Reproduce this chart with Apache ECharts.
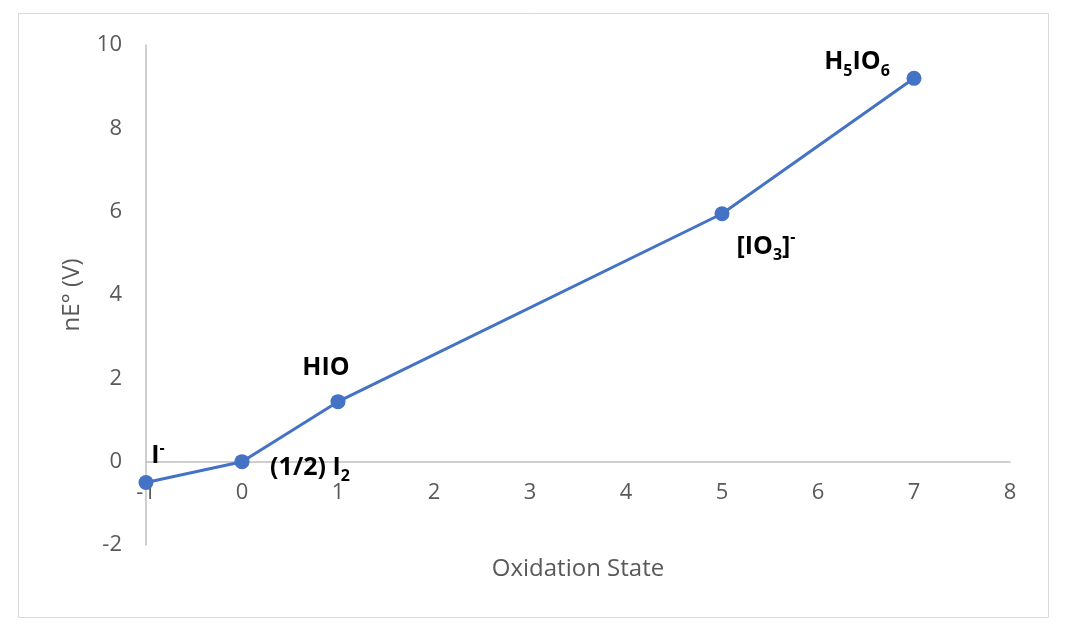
<!DOCTYPE html>
<html>
<head>
<meta charset="utf-8">
<script src="https://cdn.jsdelivr.net/npm/echarts@6/dist/echarts.min.js"></script>
<style>
html,body{margin:0;padding:0;background:#fff;}
#chart{width:1065px;height:635px;}
</style>
</head>
<body>
<div id="chart"></div>
<script>
// Data
const oxidationStates = [-1, 0, 1, 5, 7];
const nEValues = [-0.5, 0, 1.44, 5.95, 9.2];
const speciesLabels = [
  '{b|I}{sup|-}',
  '{b|(1/2) I}{sub|2}',
  '{b|HIO}',
  '{b|[IO}{sub|3}{b|]}{sup|-}',
  '{b|H}{sub|5}{b|IO}{sub|6}'
];
const xTicks = { min: -1, max: 8, interval: 1 };
const yTicks = { min: -2, max: 10, interval: 2 };

// Label placement (presentation only): offset of label centre from the point
const labelOffsets = [
  [12, -27],
  [68, 6],
  [-12, -34],
  [44, 33],
  [-57, -16]
];

const richStyles = {
  b: { fontFamily: 'Open Sans', fontWeight: 'bold', fontSize: 25, color: '#000' },
  sub: { fontFamily: 'Open Sans', fontWeight: 'bold', fontSize: 16, color: '#000', verticalAlign: 'bottom', padding: [18, 0, 0, 0] },
  sup: { fontFamily: 'Open Sans', fontWeight: 'bold', fontSize: 16, color: '#000', verticalAlign: 'top', padding: [0, 0, 14, 0] }
};

const seriesData = oxidationStates.map((x, i) => ({
  value: [x, nEValues[i]],
  label: {
    show: true,
    formatter: speciesLabels[i],
    position: 'inside',
    align: 'center',
    verticalAlign: 'middle',
    offset: labelOffsets[i],
    rich: richStyles
  }
}));

const chart = echarts.init(document.getElementById('chart'), null, { renderer: 'canvas' });
chart.setOption({
  animation: false,
  backgroundColor: '#fff',
  graphic: [{
    type: 'rect',
    shape: { x: 18.5, y: 13.5, width: 1030, height: 604 },
    style: { fill: 'none', stroke: '#d9d9d9', lineWidth: 1 },
    silent: true,
    z: -1
  }],
  grid: { left: 146, right: 55, top: 45, bottom: 90, outerBoundsMode: 'none', containLabel: false },
  xAxis: {
    type: 'value',
    min: xTicks.min, max: xTicks.max, interval: xTicks.interval,
    name: 'Oxidation State',
    nameLocation: 'middle',
    nameGap: 12,
    nameMoveOverlap: false,
    nameTextStyle: { fontFamily: 'Open Sans', fontSize: 24, color: '#595959' },
    axisLine: { show: true, onZero: true, lineStyle: { color: '#bfbfbf', width: 1.5 } },
    axisTick: { show: false },
    splitLine: { show: false },
    axisLabel: { fontFamily: 'Open Sans', fontSize: 22, color: '#595959', margin: -63 }
  },
  yAxis: {
    type: 'value',
    min: yTicks.min, max: yTicks.max, interval: yTicks.interval,
    name: 'nE° (V)',
    nameLocation: 'middle',
    nameGap: 62,
    nameTextStyle: { fontFamily: 'Open Sans', fontSize: 24, color: '#595959' },
    axisLine: { show: true, onZero: false, lineStyle: { color: '#bfbfbf', width: 1.5 } },
    axisTick: { show: false },
    splitLine: { show: false },
    axisLabel: { fontFamily: 'Open Sans', fontSize: 22, color: '#595959', margin: 24 }
  },
  series: [{
    type: 'line',
    data: seriesData,
    symbol: 'circle',
    symbolSize: 15,
    itemStyle: { color: '#4472C4' },
    lineStyle: { color: '#4472C4', width: 3 },
    z: 3
  }]
});
</script>
</body>
</html>
